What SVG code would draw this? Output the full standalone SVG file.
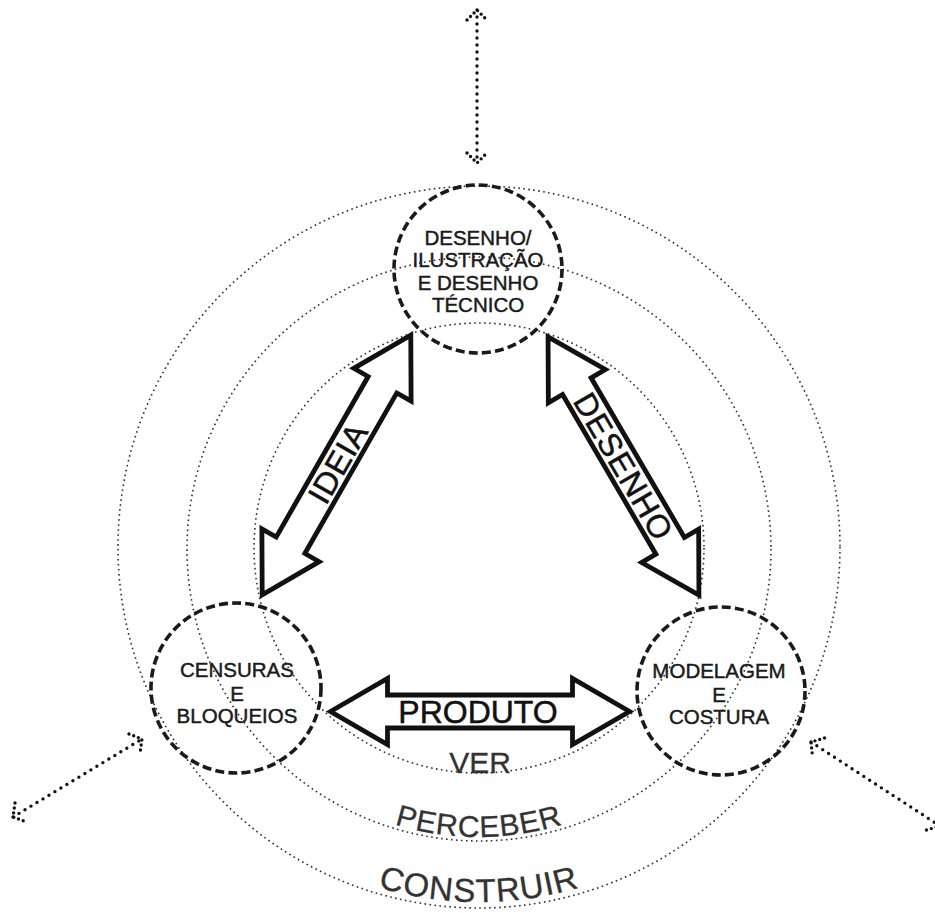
<svg xmlns="http://www.w3.org/2000/svg" xmlns:xlink="http://www.w3.org/1999/xlink" width="935" height="913" viewBox="0 0 935 913">
<style>
.ring{fill:none;stroke:#2e2e2e;stroke-width:1.6;stroke-dasharray:1.6 3.4}
.node{fill:none;stroke:#1a1a1a;stroke-width:3.6;stroke-dasharray:9 4.2}
.big{fill:#fff;stroke:#111;stroke-width:4.8;stroke-linejoin:miter}
.dot{fill:none;stroke:#111;stroke-width:3.4;stroke-linecap:round;stroke-dasharray:0 7}
.dothead{fill:none;stroke:#111;stroke-width:3.4;stroke-linecap:round;stroke-dasharray:0 5}
.nt{font-family:"Liberation Sans",Arial,sans-serif;font-size:20.5px;fill:#1a1a1a;stroke:#1a1a1a;stroke-width:0.45;text-anchor:middle}
.at{font-family:"Liberation Sans",Arial,sans-serif;font-size:32px;fill:#111;stroke:#111;stroke-width:0.5;text-anchor:middle}
.lv{font-family:"Liberation Sans",Arial,sans-serif;fill:#333;stroke:#333;stroke-width:0.3;text-anchor:middle}
</style>
<defs>
<polygon id="dbl" points="-149.5,0 -92.5,-33 -92.5,-16.5 92.5,-16.5 92.5,-33 149.5,0 92.5,33 92.5,16.5 -92.5,16.5 -92.5,33"/>
<path id="arcP" d="M190 548 A289 289 0 0 0 768 548"/>
<path id="arcC" d="M125 548 A354 354 0 0 0 833 548"/>
</defs>
<g id="rings">
<circle class="ring" cx="479" cy="548" r="225"/>
<circle class="ring" cx="479" cy="549" r="292"/>
<circle class="ring" cx="479" cy="547" r="361"/>
</g>
<g id="connectors">
<g transform="translate(336.5,465) rotate(-60.2)">
<use xlink:href="#dbl" class="big"/>
<text class="at" x="2" y="11.5" textLength="86">IDEIA</text>
</g>
<g transform="translate(623.5,466) rotate(59.7)">
<use xlink:href="#dbl" class="big"/>
<text class="at" x="0" y="11.5" textLength="164">DESENHO</text>
</g>
<g transform="translate(480,711.5)">
<use xlink:href="#dbl" class="big"/>
<text class="at" x="-2" y="11.5">PRODUTO</text>
</g>
<g id="dotted-top">
<path class="dot" d="M477 10 L477 163"/>
<path class="dothead" d="M467 20 L477 10 L487 20"/>
<path class="dothead" d="M467 153 L477 163 L487 153"/>
</g>
<g id="dotted-left">
<path class="dot" d="M13 817 L142 739"/>
<path class="dothead" d="M129 734 L142 739 L140 753"/>
<path class="dothead" d="M15 803 L13 817 L26.5 822"/>
</g>
<g id="dotted-right">
<path class="dot" d="M811 742 L940 826"/>
<path class="dothead" d="M824.5 738 L811 742 L812.5 756"/>
<path class="dothead" d="M926.5 830 L940 826 L938.5 812"/>
</g>
</g>
<g id="node-desenho">
<circle class="node" cx="478" cy="269" r="84"/>
<text class="nt" x="478" y="245">DESENHO/</text>
<text class="nt" x="478" y="267">ILUSTRAÇÃO</text>
<text class="nt" x="478" y="289.5">E DESENHO</text>
<text class="nt" x="478" y="312">TÉCNICO</text>
</g>
<g id="node-censuras">
<circle class="node" cx="236" cy="688" r="85"/>
<text class="nt" x="237" y="677">CENSURAS</text>
<text class="nt" x="237" y="701">E</text>
<text class="nt" x="237" y="723">BLOQUEIOS</text>
</g>
<g id="node-modelagem">
<circle class="node" cx="721" cy="691" r="84"/>
<text class="nt" x="719" y="678">MODELAGEM</text>
<text class="nt" x="719" y="702">E</text>
<text class="nt" x="719" y="724">COSTURA</text>
</g>
<g id="levels">
<text class="lv" x="480" y="773" font-size="30">VER</text>
<text class="lv" font-size="30" letter-spacing="0.8"><textPath xlink:href="#arcP" startOffset="50%">PERCEBER</textPath></text>
<text class="lv" font-size="33" letter-spacing="1"><textPath xlink:href="#arcC" startOffset="50%">CONSTRUIR</textPath></text>
</g>
</svg>
